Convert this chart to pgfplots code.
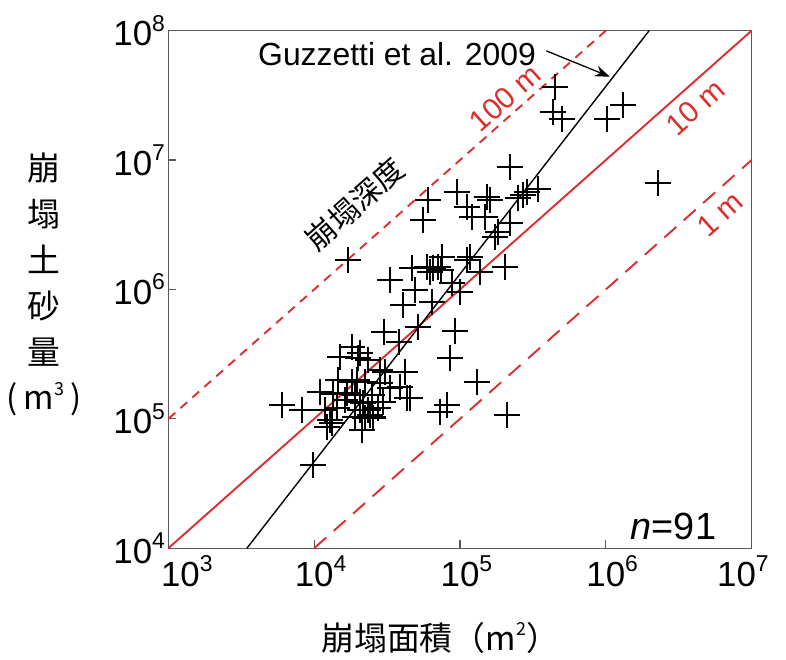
\documentclass[border=0pt]{standalone}
\usepackage{fontspec}
\setmainfont{Liberation Sans}
\newfontfamily\cjk{Noto Sans CJK TC}
\usepackage{pgfplots}
\pgfplotsset{compat=1.18}
\usetikzlibrary{arrows.meta}
\definecolor{lred}{RGB}{222,45,45}
\newcommand{\tl}[1]{10\raisebox{0.42em}{\fontsize{23}{23}\selectfont #1}}
\newcommand{\xtl}[1]{10\rlap{\raisebox{0.42em}{\fontsize{23}{23}\selectfont #1}}}
\newcommand{\sps}[1]{\raisebox{0.45em}{\fontsize{18}{18}\selectfont #1}}

\begin{document}
\begin{tikzpicture}
\begin{axis}[
  xmode=log, ymode=log,
  xmin=1e3, xmax=1e7, ymin=1e4, ymax=1e8,
  scale only axis, width=583.2bp, height=517.5bp,
  xtick={1e3,1e4,1e5,1e6,1e7},
  xticklabels={\hspace*{24bp}\xtl{3},\xtl{4},\xtl{5},\xtl{6},\xtl{7}\hspace*{30bp}},
  ytick={1e4,1e5,1e6,1e7,1e8},
  yticklabels={\tl{4},\tl{5},\tl{6},\tl{7},\tl{8}},
  xminorticks=false, yminorticks=false,
  tick align=inside, xtick pos=left, ytick pos=left,
  major tick length=8bp,
  tick style={line width=1.2bp, color=black!65},
  axis line style={line width=1.3bp, color=black!65},
  ticklabel style={font=\fontsize{35}{38}\selectfont},
  xticklabel style={yshift=-4bp},
  clip=false,
]
\addplot[lred, line width=1.9bp, dash pattern=on 9bp off 7bp] coordinates {(1e3,1e5) (1e6,1e8)};
\addplot[lred, line width=1.9bp] coordinates {(1e3,1e4) (1e7,1e8)};
\addplot[lred, line width=1.9bp, dash pattern=on 16bp off 10bp] coordinates {(1e4,1e4) (1e7,1e7)};
\addplot[black, line width=1.4bp] coordinates {(3456,1e4) (1.982e6,1e8)};
\addplot[only marks, mark=+, mark size=13bp, line width=2.4bp, black] table {
x y
4.49e5 3.67e7
4.35e5 2.35e7
5.01e5 2.08e7
1.02e6 2.08e7
1.31e6 2.67e7
2.28e6 6.65e6
2.20e5 8.85e6
6.04e4 4.92e6
5.57e4 3.44e6
9.53e4 5.67e6
1.12e5 4.34e6
1.21e5 3.63e6
1.53e5 5.19e6
1.61e5 4.92e6
1.48e5 3.63e6
2.50e5 5.09e6
2.70e5 5.37e6
2.88e5 5.67e6
3.43e5 5.98e6
2.20e5 3.26e6
1.82e5 2.78e6
1.74e5 2.55e6
1.71e4 1.69e6
3.31e4 1.18e6
4.69e4 1.47e6
5.94e4 1.49e6
6.53e4 1.47e6
7.06e4 1.49e6
7.53e4 1.78e6
4.91e4 9.91e5
4.06e4 7.59e5
6.43e4 8.00e5
8.81e4 1.12e6
1.00e5 9.57e5
1.12e5 1.69e6
1.17e5 1.78e6
1.37e5 1.37e6
2.04e5 1.49e6
5.15e4 5.13e5
9.25e4 4.78e5
3.01e4 4.70e5
3.82e4 3.93e5
6.22e4 1.37e6
7.41e4 1.42e6
8.53e4 2.96e5
1.31e5 1.93e5
4.54e4 1.45e5
8.15e4 1.28e5
7.29e4 1.13e5
2.10e5 1.07e5
4.20e4 2.30e5
1.82e4 3.60e5
1.50e4 3.01e5
2.00e4 2.96e5
2.34e4 2.85e5
2.82e4 2.39e5
3.06e4 2.30e5
1.97e4 2.00e5
2.23e4 1.93e5
2.82e4 1.89e5
3.87e4 1.76e5
1.10e4 1.61e5
1.35e4 1.56e5
1.68e4 1.58e5
4.34e4 1.45e5
2.06e4 1.35e5
2.97e4 1.35e5
8.24e3 1.17e5
6.01e3 1.28e5
1.19e4 1.17e5
1.43e4 1.21e5
2.06e4 1.17e5
2.34e4 1.17e5
2.74e4 1.21e5
1.28e4 9.81e4
1.91e4 1.03e5
2.42e4 1.07e5
1.22e4 8.66e4
1.32e4 9.30e4
9.82e3 4.41e4
2.16e4 1.33e5
2.53e4 1.02e5
2.06e4 3.23e5
3.31e4 1.73e5
1.82e4 1.93e5
2.23e4 1.02e5
1.63e4 1.40e5
2.49e4 1.53e5
1.91e4 1.53e5
2.13e4 8.20e4
1.46e4 2.00e5
};
\node[font=\fontsize{32}{36}\selectfont] at (rel axis cs:0.392,0.955) {Guzzetti et al. 2009};
\draw[-{Stealth[length=15bp,width=11bp]}, line width=1.3bp] (rel axis cs:0.648,0.961) -- (rel axis cs:0.757,0.911);
\node[rotate=41.6, text=lred, inner sep=0pt, font=\fontsize{30}{34}\selectfont] at (rel axis cs:0.577,0.870) {100 m};
\node[rotate=41.6, text=lred, inner sep=0pt, font=\fontsize{30}{34}\selectfont] at (rel axis cs:0.903,0.852) {10 m};
\node[rotate=41.6, text=lred, inner sep=0pt, font=\fontsize{30}{34}\selectfont] at (rel axis cs:0.946,0.646) {1 m};
\node[rotate=41.6, inner sep=0pt, font=\cjk\fontsize{30}{34}\selectfont] at (rel axis cs:0.320,0.665) {崩塌深度};
\node[font=\fontsize{38}{42}\selectfont] at (rel axis cs:0.866,0.041) {\textit{n}=91};
\node[align=center, inner sep=0pt, font=\cjk\fontsize{33}{46}\selectfont] at (rel axis cs:-0.2130,0.509) {崩\\塌\\土\\砂\\量\\(\hspace{6bp}m\sps{3}\hspace{6bp})};
\node[font=\cjk\fontsize{33}{40}\selectfont] at (rel axis cs:0.466,-0.1735) {崩塌面積（m\sps{2}）};
\coordinate (bbl) at (rel axis cs:-0.2888,-0.2160);
\coordinate (btr) at (rel axis cs:1.0590,1.0593);
\end{axis}
\pgfresetboundingbox
\path[use as bounding box] (bbl) rectangle (btr);
\end{tikzpicture}
\end{document}
